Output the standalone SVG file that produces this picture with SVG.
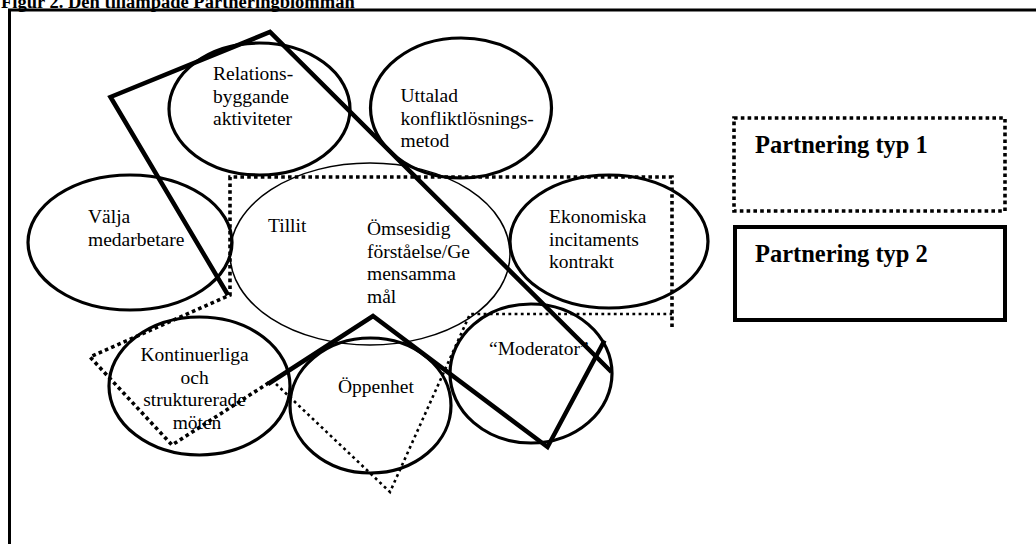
<svg xmlns="http://www.w3.org/2000/svg" width="1036" height="544" viewBox="0 0 1036 544">
  <style>
    .bg { fill: #ffffff; }
    .frame { fill: none; stroke: #000; stroke-width: 3; }
    .petal { fill: none; stroke: #000; stroke-width: 3.2; }
    .core { fill: none; stroke: #000; stroke-width: 1.5; }
    .lbl { font-family: "Liberation Serif", "Times New Roman", serif; font-size: 19.5px; fill: #000; }
    .mid { text-anchor: middle; }
    .title { font-family: "Liberation Serif", "Times New Roman", serif; font-size: 18.5px; font-weight: bold; fill: #000; }
    .legend { font-family: "Liberation Serif", "Times New Roman", serif; font-size: 24.5px; font-weight: bold; fill: #000; }
    .typ1 { fill: none; stroke: #000; stroke-width: 3.6; stroke-dasharray: 3.6 3.2; }
    .typ1thin { fill: none; stroke: #000; stroke-width: 2.6; stroke-dasharray: 2.8 3.4; }
    .typ2 { fill: none; stroke: #000; stroke-width: 4.5; stroke-linejoin: miter; }
    .box2 { fill: none; stroke: #000; stroke-width: 4; }
  </style>

  <rect class="bg" x="0" y="0" width="1036" height="544"/>

  <!-- heading and outer frame -->
  <text class="title" x="1" y="7.5">Figur 2. Den tillämpade Partneringblomman</text>
  <path class="frame" d="M9.5 560 V10 H1040"/>

  <!-- central element -->
  <g id="node-kärna">
    <ellipse class="core" cx="370" cy="254" rx="140" ry="91"/>
    <text class="lbl" x="268" y="232">Tillit</text>
    <text class="lbl">
      <tspan x="367" y="235">Ömsesidig</tspan>
      <tspan x="367" y="257.5">förståelse/Ge</tspan>
      <tspan x="367" y="280">mensamma</tspan>
      <tspan x="367" y="302.5">mål</tspan>
    </text>
  </g>

  <g id="node-relationsbyggande">
    <ellipse class="petal" cx="259.5" cy="109" rx="90.5" ry="66"/>
    <text class="lbl">
      <tspan x="213" y="80">Relations-</tspan>
      <tspan x="213" y="102.5">byggande</tspan>
      <tspan x="213" y="125">aktiviteter</tspan>
    </text>
  </g>

  <g id="node-konfliktlosning">
    <ellipse class="petal" cx="461" cy="108" rx="90.5" ry="70"/>
    <text class="lbl">
      <tspan x="400.5" y="102">Uttalad</tspan>
      <tspan x="400.5" y="124.5">konfliktlösnings-</tspan>
      <tspan x="400.5" y="147">metod</tspan>
    </text>
  </g>

  <g id="node-valja">
    <ellipse class="petal" cx="130" cy="242.5" rx="102" ry="67.5"/>
    <text class="lbl">
      <tspan x="88" y="223">Välja</tspan>
      <tspan x="88" y="245.5">medarbetare</tspan>
    </text>
  </g>

  <g id="node-ekonomiska">
    <ellipse class="petal" cx="609" cy="241.5" rx="99" ry="66.5"/>
    <text class="lbl">
      <tspan x="549" y="223">Ekonomiska</tspan>
      <tspan x="549" y="245.5">incitaments</tspan>
      <tspan x="549" y="268">kontrakt</tspan>
    </text>
  </g>

  <g id="node-moten">
    <ellipse class="petal" cx="199.5" cy="386" rx="90.5" ry="69"/>
    <text class="lbl mid">
      <tspan x="197" y="361">Kontinuerliga</tspan>
      <tspan x="197" y="383.5">och</tspan>
      <tspan x="197" y="406">strukturerade</tspan>
      <tspan x="197" y="428.5">möten</tspan>
    </text>
  </g>

  <g id="node-oppenhet">
    <ellipse class="petal" cx="370.5" cy="405.5" rx="80.5" ry="67.5"/>
    <text class="lbl" x="338" y="393">Öppenhet</text>
  </g>

  <g id="node-moderator">
    <ellipse class="petal" cx="531" cy="373.5" rx="81" ry="69.5"/>
    <text class="lbl" x="489" y="355">“Moderator”</text>
  </g>

  <!-- outlines grouping the elements into the two partnering types -->
  <g id="connectors">
    <!-- type 1: dotted -->
    <path class="typ1" d="M672 327 V177 H230 V295 L90 357 L172 445 L270 382"/>
    <path class="typ1thin" d="M276 384 L390 492 L470 314 H672"/>
    <!-- type 2: solid -->
    <path class="typ2" d="M228 295 L110.5 97 L270 32 L611.5 372"/>
    <path class="typ2" d="M604.5 340.5 L547.5 447 L373 316 L268 384"/>
  </g>

  <!-- legend -->
  <g id="legend-typ1">
    <rect class="typ1" x="734" y="118" width="271" height="93"/>
    <text class="legend" x="755" y="153">Partnering typ 1</text>
  </g>
  <g id="legend-typ2">
    <rect class="box2" x="735" y="227" width="270" height="93"/>
    <text class="legend" x="755" y="262">Partnering typ 2</text>
  </g>
</svg>
